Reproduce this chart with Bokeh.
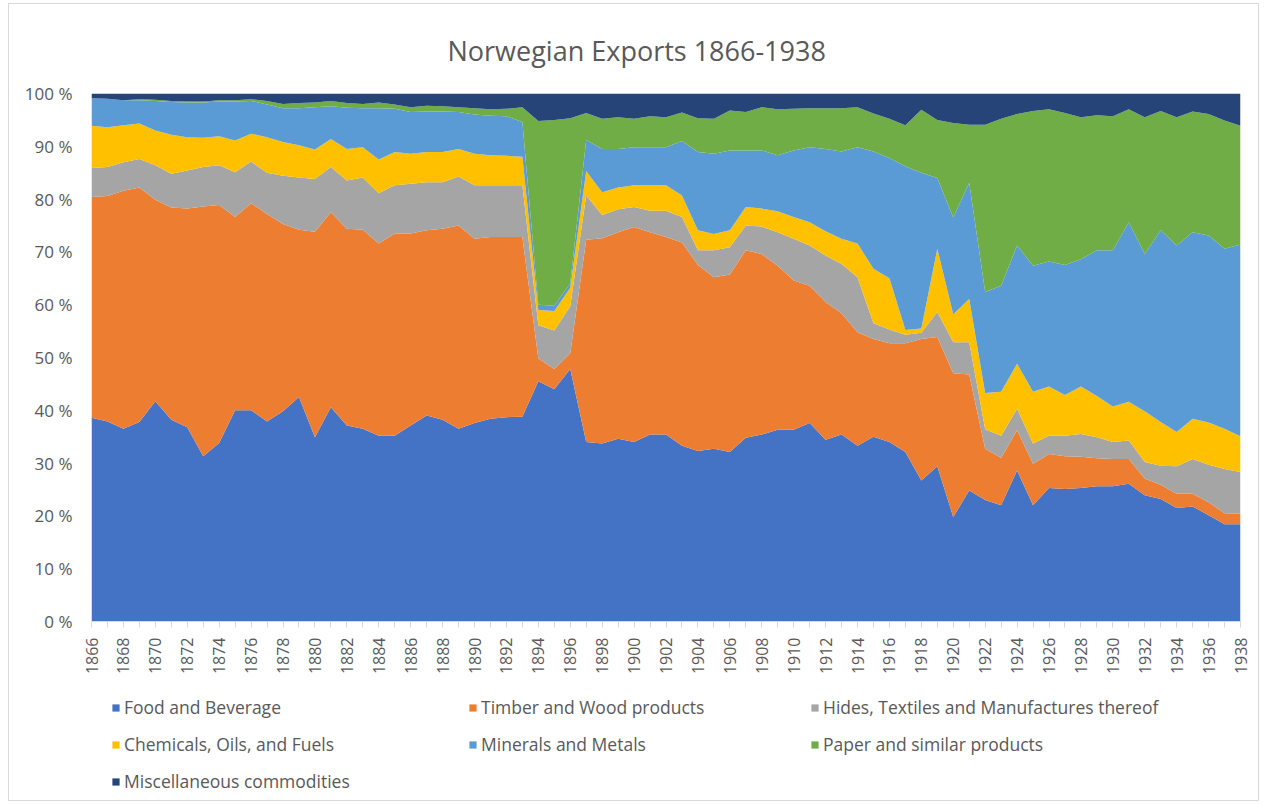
import math
from bokeh.plotting import figure
from bokeh.layouts import column
from bokeh.models import ColumnDataSource, Range1d, FixedTicker, Legend, LegendItem
from bokeh.embed import file_html
from bokeh.resources import INLINE

years = list(range(1866, 1939))

food = [38.6, 37.9, 36.5, 37.8, 41.7, 38.2, 36.8, 31.3, 33.8, 40.0,
        40.0, 37.9, 39.8, 42.5, 34.9, 40.6, 37.1, 36.5, 35.2, 35.2,
        37.1, 39.0, 38.2, 36.5, 37.6, 38.4, 38.7, 38.8, 45.5, 44.0,
        47.8, 34.0, 33.7, 34.6, 34.0, 35.4, 35.4, 33.3, 32.3, 32.7,
        32.1, 34.8, 35.4, 36.3, 36.3, 37.6, 34.4, 35.4, 33.3, 35.0,
        34.0, 32.1, 26.7, 29.4, 19.8, 24.8, 23.0, 22.0, 28.6, 22.0,
        25.3, 25.1, 25.3, 25.6, 25.6, 26.1, 23.9, 23.2, 21.5, 21.8,
        20.1, 18.4, 18.4]

timber = [41.8, 42.7, 45.1, 44.4, 38.2, 40.2, 41.4, 47.3, 45.1, 36.6,
          39.2, 39.3, 35.5, 31.7, 38.9, 36.9, 37.3, 37.7, 36.4, 38.3,
          36.4, 35.1, 36.2, 38.5, 34.9, 34.4, 34.1, 34.0, 4.3, 3.8,
          3.0, 38.3, 38.9, 39.1, 40.7, 38.3, 37.4, 38.5, 35.2, 32.5,
          33.6, 35.5, 34.2, 31.1, 28.3, 26.0, 26.1, 23.0, 21.5, 18.5,
          18.7, 20.6, 26.8, 24.5, 27.2, 22.0, 9.7, 9.0, 7.6, 7.9,
          6.4, 6.2, 5.9, 5.3, 5.2, 4.7, 3.2, 2.7, 2.7, 2.4,
          2.5, 2.1, 2.0]

hides = [5.5, 5.5, 5.4, 5.4, 6.5, 6.4, 7.2, 7.5, 7.5, 8.5,
         7.9, 7.8, 9.1, 9.9, 10.0, 8.6, 9.1, 9.9, 9.5, 9.1,
         9.4, 9.1, 8.8, 9.3, 10.1, 9.8, 9.8, 9.8, 6.3, 7.3,
         8.9, 8.4, 4.4, 4.4, 3.8, 4.1, 5.0, 4.8, 2.8, 5.1,
         5.2, 4.7, 5.2, 6.3, 7.9, 7.6, 8.8, 9.3, 10.4, 3.0,
         2.6, 1.6, 1.2, 4.7, 5.9, 6.1, 3.7, 4.2, 4.1, 3.8,
         3.5, 3.9, 4.3, 4.0, 3.2, 3.5, 3.1, 3.6, 5.2, 6.6,
         7.1, 8.4, 7.9]

chemicals = [8.0, 7.5, 7.0, 6.7, 6.6, 7.4, 6.3, 5.5, 5.5, 6.0,
             5.3, 6.7, 6.4, 6.1, 5.6, 5.3, 6.0, 5.7, 6.4, 6.3,
             5.7, 5.7, 5.7, 5.2, 6.0, 5.7, 5.6, 5.4, 2.9, 3.7,
             3.5, 4.6, 4.3, 4.1, 4.1, 4.8, 4.8, 4.1, 3.8, 3.1,
             3.2, 3.5, 3.4, 4.0, 4.1, 4.4, 4.6, 4.8, 6.4, 10.3,
             9.7, 0.9, 0.8, 12.0, 5.3, 8.2, 6.9, 8.3, 8.5, 9.8,
             9.3, 7.7, 9.0, 7.8, 6.7, 7.3, 9.6, 8.3, 6.5, 7.6,
             8.0, 7.6, 6.8]

minerals = [5.2, 5.4, 4.7, 4.4, 5.6, 6.2, 6.6, 6.7, 6.6, 7.4,
            6.2, 6.2, 6.4, 7.0, 8.0, 6.2, 7.8, 7.4, 9.7, 8.2,
            7.9, 7.7, 7.7, 7.0, 7.4, 7.5, 7.5, 6.6, 1.0, 1.0,
            0.8, 5.9, 8.2, 7.3, 7.2, 7.2, 7.2, 10.3, 14.8, 15.2,
            15.1, 10.7, 11.0, 10.6, 12.6, 14.2, 15.6, 16.5, 18.2, 22.2,
            22.8, 31.0, 29.5, 13.4, 18.3, 22.0, 19.1, 20.1, 22.4, 23.9,
            23.7, 24.6, 24.1, 27.6, 29.6, 34.0, 29.8, 36.3, 35.3, 35.3,
            35.4, 34.1, 36.3]

paper = [0.0, 0.0, 0.0, 0.2, 0.2, 0.2, 0.2, 0.2, 0.2, 0.2,
         0.3, 0.7, 0.8, 1.0, 0.9, 1.0, 0.9, 0.8, 1.1, 0.8,
         0.9, 1.1, 1.0, 0.9, 1.2, 1.2, 1.4, 2.8, 34.8, 35.2,
         31.3, 5.1, 5.7, 6.0, 5.4, 5.9, 5.7, 5.4, 6.4, 6.6,
         7.6, 7.3, 8.2, 8.7, 7.9, 7.4, 7.7, 8.2, 7.6, 7.2,
         7.4, 7.8, 11.9, 11.0, 17.9, 11.0, 31.7, 31.6, 24.9, 29.3,
         28.8, 28.8, 26.9, 25.6, 25.4, 21.4, 25.9, 22.6, 24.3, 22.9,
         23.0, 24.3, 22.5]

misc = [0.9, 1.0, 1.3, 1.1, 1.2, 1.4, 1.5, 1.5, 1.3, 1.3,
        1.1, 1.4, 2.0, 1.8, 1.7, 1.4, 1.8, 2.0, 1.7, 2.1,
        2.6, 2.3, 2.4, 2.6, 2.8, 3.0, 2.9, 2.6, 5.2, 5.0,
        4.7, 3.7, 4.8, 4.5, 4.8, 4.3, 4.5, 3.6, 4.7, 4.8,
        3.2, 3.5, 2.6, 3.0, 2.9, 2.8, 2.8, 2.8, 2.6, 3.8,
        4.8, 6.0, 3.1, 5.0, 5.6, 5.9, 5.9, 4.8, 3.9, 3.3,
        3.0, 3.7, 4.5, 4.1, 4.3, 3.0, 4.5, 3.3, 4.5, 3.4,
        3.9, 5.1, 6.1]

labels = ["Food and Beverage", "Timber and Wood products",
          "Hides, Textiles and Manufactures thereof",
          "Chemicals, Oils, and Fuels", "Minerals and Metals",
          "Paper and similar products", "Miscellaneous commodities"]
keys = ["food", "timber", "hides", "chemicals", "minerals", "paper", "misc"]
colors = ["#4472C4", "#ED7D31", "#A5A5A5", "#FFC000", "#5B9BD5", "#70AD47", "#264478"]
y_ticks = [0, 10, 20, 30, 40, 50, 60, 70, 80, 90, 100]

src = ColumnDataSource(dict(year=years, food=food, timber=timber, hides=hides,
                            chemicals=chemicals, minerals=minerals, paper=paper, misc=misc))

TXT = "#595959"
FONT = "Open Sans"

p = figure(frame_width=1149, frame_height=528,
           x_range=Range1d(1866, 1938), y_range=Range1d(0, 100),
           output_backend="svg", toolbar_location=None,
           min_border_left=82, min_border_right=18, min_border_top=89, min_border_bottom=72,
           title="Norwegian Exports 1866-1938")
p.outline_line_color = None
p.grid.visible = False
p.background_fill_color = "white"

rs = p.varea_stack(stackers=keys, x="year", fill_color=colors, source=src)

p.title.align = "left"
p.title.offset = 356
p.title.text_font = FONT
p.title.text_font_size = "27px"
p.title.text_font_style = "normal"
p.title.text_color = TXT
p.title.standoff = 49

xa = p.xaxis[0]
xa.ticker = FixedTicker(ticks=years)
xa.major_label_overrides = {y: (str(y) if y % 2 == 0 else "") for y in years}
xa.major_label_orientation = math.pi / 2
xa.major_tick_in = 0
xa.major_tick_out = 6
xa.minor_tick_line_color = None
xa.axis_line_color = "#d9d9d9"
xa.major_tick_line_color = "#d9d9d9"
xa.major_label_text_font = FONT
xa.major_label_text_font_size = "16px"
xa.major_label_text_color = TXT
xa.major_label_standoff = 10

ya = p.yaxis[0]
ya.ticker = FixedTicker(ticks=y_ticks)
ya.major_label_overrides = {v: f"{v} %" for v in y_ticks}
ya.axis_line_color = None
ya.major_tick_line_color = None
ya.minor_tick_line_color = None
ya.major_label_text_font = FONT
ya.major_label_text_font_size = "17px"
ya.major_label_text_color = TXT
ya.major_label_standoff = 13

# legend panel below the chart
LW, LH = 1249, 107
lp = figure(width=LW, height=LH, x_range=Range1d(0, LW), y_range=Range1d(0, LH),
            output_backend="svg", toolbar_location=None,
            x_axis_location=None, y_axis_location=None, min_border=0)
lp.outline_line_color = None
lp.grid.visible = False
lrs = [lp.varea(x=[0, 1], y1=[0, 0], y2=[0, 0], fill_color=c) for c in colors]

cells = [(20, 81), (377, 81), (719, 81), (20, 44), (377, 44), (719, 44), (20, 7)]
for (cx, cy), lab, r in zip(cells, labels, lrs):
    lg = Legend(items=[LegendItem(label=lab, renderers=[r])],
                location=(cx, cy), orientation="horizontal",
                glyph_width=9, glyph_height=9, label_standoff=4,
                label_height=21, spacing=0, padding=0, margin=0,
                label_text_font=FONT, label_text_font_size="17.5px", label_text_color=TXT,
                border_line_color=None, background_fill_alpha=0)
    lp.add_layout(lg, "center")

layout = column(p, lp, spacing=0)
layout.margin = (3, 0, 0, 8)
layout.styles = {"border": "1px solid #d9d9d9"}

open("out.html", "w").write(file_html(layout, INLINE))
